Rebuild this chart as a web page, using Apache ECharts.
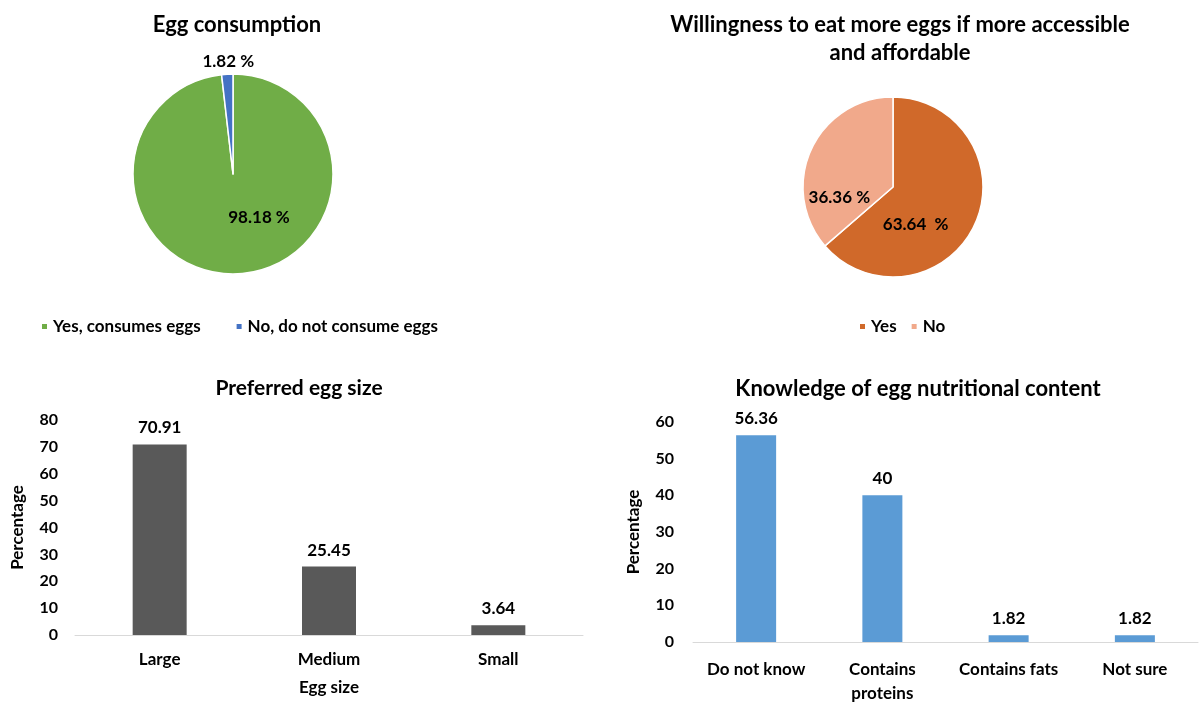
<!DOCTYPE html>
<html>
<head>
<meta charset="utf-8">
<script src="https://cdn.jsdelivr.net/npm/echarts@6/dist/echarts.min.js"></script>
<style>
  html, body { margin: 0; padding: 0; background: #fff; }
  #chart { width: 1200px; height: 706px; }
</style>
</head>
<body>
<div id="chart"></div>
<script>
// dados
const consumoNomes = ['Yes, consumes eggs', 'No, do not consume eggs'];
const consumoValores = [98.18, 1.82];
const consumoCores = ['#70AD47', '#4472C4'];

const vontadeNomes = ['Yes', 'No'];
const vontadeValores = [63.64, 36.36];
const vontadeCores = ['#D0692A', '#F1A98B'];

const tamanhos = ['Large', 'Medium', 'Small'];
const tamanhoValores = [70.91, 25.45, 3.64];

const conhecimento = ['Do not know', 'Contains\nproteins', 'Contains fats', 'Not sure'];
const conhecimentoValores = [56.36, 40, 1.82, 1.82];

const fonte = 'Lato';
const texto = { fontFamily: fonte, fontWeight: 'bold', color: '#000' };

// deslocamentos dos rótulos das pizzas (como no original)
const desloc1 = [{ dx: 23, dy: -9 }, { dx: 32, dy: -9 }];
const desloc2 = [{ dx: -21, dy: 18 }, { dx: -10, dy: 30 }];

const chart = echarts.init(document.getElementById('chart'));

const option = {
  backgroundColor: '#fff',
  animation: false,
  title: [
    { text: 'Egg consumption', left: 232, top: 9, textAlign: 'center',
      textStyle: { ...texto, fontSize: 22 } },
    { text: 'Willingness to eat more eggs if more accessible\nand affordable', left: 895, top: 6, textAlign: 'center',
      textStyle: { ...texto, fontSize: 22, lineHeight: 28 } },
    { text: 'Preferred egg size', left: 294, top: 373, textAlign: 'center',
      textStyle: { ...texto, fontSize: 21 } },
    { text: 'Knowledge of egg nutritional content', left: 913, top: 373, textAlign: 'center',
      textStyle: { ...texto, fontSize: 22 } }
  ],
  legend: [
    { data: consumoNomes, left: 35, top: 313, icon: 'rect', itemWidth: 7, itemHeight: 7, itemGap: 34,
      textStyle: { ...texto, fontSize: 17 } },
    { data: vontadeNomes, left: 853, top: 313, icon: 'rect', itemWidth: 7, itemHeight: 7, itemGap: 13,
      textStyle: { ...texto, fontSize: 17 } }
  ],
  grid: [
    { left: 75, right: 617, top: 420, bottom: 71 },
    { left: 693, right: 2, top: 422, bottom: 56 }
  ],
  xAxis: [
    { gridIndex: 0, type: 'category', data: tamanhos,
      axisLine: { lineStyle: { color: '#D9D9D9' } }, axisTick: { show: false },
      axisLabel: { ...texto, fontSize: 17, margin: 16 },
      name: 'Egg size', nameLocation: 'middle', nameGap: 44,
      nameTextStyle: { ...texto, fontSize: 17 } },
    { gridIndex: 1, type: 'category', data: conhecimento,
      axisLine: { lineStyle: { color: '#D9D9D9' } }, axisTick: { show: false },
      axisLabel: { ...texto, fontSize: 17, margin: 16, lineHeight: 24, interval: 0 } }
  ],
  yAxis: [
    { gridIndex: 0, type: 'value', min: 0, max: 80, interval: 10,
      axisLine: { show: false }, axisTick: { show: false }, splitLine: { show: false },
      axisLabel: { ...texto, fontSize: 16, margin: 17 },
      name: 'Percentage', nameLocation: 'middle', nameGap: 49, nameRotate: 90,
      nameTextStyle: { ...texto, fontSize: 17 } },
    { gridIndex: 1, type: 'value', min: 0, max: 60, interval: 10,
      axisLine: { show: false }, axisTick: { show: false }, splitLine: { show: false },
      axisLabel: { ...texto, fontSize: 16, margin: 19 },
      name: 'Percentage', nameLocation: 'middle', nameGap: 51, nameRotate: 90,
      nameTextStyle: { ...texto, fontSize: 17 } }
  ],
  series: [
    {
      name: 'Egg consumption',
      type: 'pie',
      center: [233, 174],
      radius: 100,
      startAngle: 90,
      clockwise: true,
      itemStyle: { borderColor: '#fff', borderWidth: 1.5 },
      label: { ...texto, fontSize: 17 },
      labelLine: { show: false, length: 4, length2: 0 },
      data: consumoNomes.map((n, i) => ({
        name: n, value: consumoValores[i],
        itemStyle: { color: consumoCores[i] },
        label: { position: i === 0 ? 'inside' : 'outside', formatter: consumoValores[i] + ' %' }
      })),
      labelLayout: (p) => desloc1[p.dataIndex]
    },
    {
      name: 'Willingness',
      type: 'pie',
      center: [893, 187],
      radius: 90,
      startAngle: 90,
      clockwise: true,
      itemStyle: { borderColor: '#fff', borderWidth: 1.5 },
      label: { ...texto, fontSize: 17, position: 'inside' },
      data: vontadeNomes.map((n, i) => ({
        name: n, value: vontadeValores[i],
        itemStyle: { color: vontadeCores[i] },
        label: { formatter: i === 0 ? vontadeValores[i] + '  %' : vontadeValores[i] + ' %' }
      })),
      labelLayout: (p) => desloc2[p.dataIndex]
    },
    {
      type: 'bar',
      xAxisIndex: 0, yAxisIndex: 0,
      data: tamanhoValores,
      barWidth: 54,
      itemStyle: { color: '#595959' },
      label: { show: true, position: 'top', distance: 8, ...texto, fontSize: 17 }
    },
    {
      type: 'bar',
      xAxisIndex: 1, yAxisIndex: 1,
      data: conhecimentoValores,
      barWidth: 40,
      itemStyle: { color: '#5B9BD5' },
      label: { show: true, position: 'top', distance: 8, ...texto, fontSize: 17 }
    }
  ]
};

chart.setOption(option);
</script>
</body>
</html>
